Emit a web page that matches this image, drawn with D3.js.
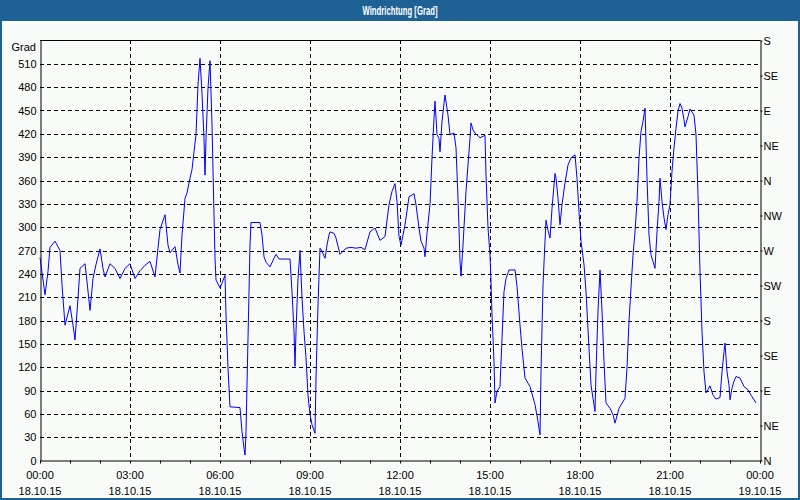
<!DOCTYPE html>
<html>
<head>
<meta charset="utf-8">
<script src="https://cdn.jsdelivr.net/npm/d3@7"></script>
<style>
html,body{margin:0;padding:0;background:#f8fbf8;}
svg{display:block;}
text{font-family:"Liberation Sans",Arial,sans-serif;font-size:11px;fill:#000;}
</style>
</head>
<body>
<svg id="chart" width="800" height="500"></svg>
<script>
// ---- data ----
const chartTitle = "Windrichtung [Grad]";
const yAxisTitle = "Grad";
const startDate = "2015-10-18T00:00:00";
// minutes after 18.10.15 00:00
const minutes = [0,10,16,20,30,40,44,50,60,66,70,76,80,90,94,100,106,112,120,126,130,140,150,160,170,180,190,200,210,220,230,236,240,250,256,260,270,276,280,284,290,294,300,304,308,312,316,320,324,328,330,332,336,340,344,348,350,352,360,364,370,372,376,380,400,404,408,410,412,414,416,418,420,422,440,444,448,452,460,468,472,478,500,504,508,510,512,516,520,524,528,532,536,540,544,550,552,556,560,564,570,574,578,580,588,592,600,612,622,632,642,650,660,670,680,690,698,704,710,714,718,722,730,738,748,752,758,762,768,770,774,780,784,788,790,794,798,800,804,808,810,816,820,828,832,836,838,840,842,846,852,856,860,862,866,870,880,890,892,896,900,902,904,908,910,914,920,924,928,932,938,950,954,960,964,970,980,990,996,1000,1002,1006,1010,1012,1016,1020,1024,1030,1032,1036,1040,1044,1050,1056,1062,1070,1074,1078,1082,1088,1092,1098,1102,1106,1110,1112,1116,1120,1124,1128,1132,1140,1146,1150,1158,1170,1174,1178,1182,1186,1190,1194,1198,1202,1206,1210,1214,1218,1222,1226,1230,1234,1238,1240,1244,1248,1252,1256,1260,1264,1268,1272,1276,1280,1284,1288,1290,1296,1300,1308,1312,1316,1320,1324,1328,1332,1336,1340,1346,1352,1360,1364,1368,1370,1374,1378,1380,1384,1388,1392,1400,1408,1416,1422,1432];
// wind direction in degrees
const direction = [261,213,243,274,282,270,226,174,199,174,155,209,247,253,230,193,234,252,272,247,236,253,247,234,247,253,234,244,251,256,236,273,297,316,277,267,275,252,241,290,337,344,363,374,397,419,483,517,472,414,367,414,479,514,432,316,260,232,222,228,238,187,119,69,68,37,16,7,37,97,157,217,277,306,306,290,262,255,249,260,265,259,259,217,166,121,166,234,270,209,166,132,84,59,46,35,106,200,273,269,260,277,290,294,292,286,265,273,274,273,274,271,294,299,283,288,329,346,356,333,288,277,303,339,343,329,299,282,273,262,292,329,389,440,462,419,414,397,436,459,470,444,419,421,402,337,299,256,237,277,346,380,414,434,425,421,415,418,367,299,264,230,187,127,74,89,95,157,217,234,245,245,224,174,144,106,95,72,50,33,114,226,282,309,296,286,324,369,363,337,303,329,357,380,389,393,363,320,282,252,217,144,97,80,63,114,192,245,192,127,74,67,59,48,67,80,119,179,222,264,294,333,389,423,436,453,363,290,264,256,247,294,333,363,333,312,297,316,329,372,402,427,449,459,453,438,429,442,452,444,419,342,243,166,114,87,91,96,84,79,81,114,140,151,114,97,78,93,102,108,106,95,91,84,74];
const leftTickValues = [0,30,60,90,120,150,180,210,240,270,300,330,360,390,420,450,480,510];
const rightTickValues = [0,45,90,135,180,225,270,315,360,405,450,495,540];
const rightTickLabels = ["N","NE","E","SE","S","SW","W","NW","N","NE","E","SE","S"];
const timeLabels = ["00:00","03:00","06:00","09:00","12:00","15:00","18:00","21:00","00:00"];
const dateLabels = ["18.10.15","18.10.15","18.10.15","18.10.15","18.10.15","18.10.15","18.10.15","18.10.15","19.10.15"];

// ---- drawing ----
const W = 800, H = 500;
const mLeft = 40, mRight = 760, mTop = 40, mBottom = 460;
const svg = d3.select("#chart");
const frameBlue = "#1e6295";

svg.append("rect").attr("x",0).attr("y",0).attr("width",W).attr("height",H).attr("fill","#f8fbf8");
svg.append("rect").attr("x",0).attr("y",0).attr("width",W).attr("height",21).attr("fill",frameBlue);
svg.append("rect").attr("x",1).attr("y",1).attr("width",W-2).attr("height",H-2)
  .attr("fill","none").attr("stroke",frameBlue).attr("stroke-width",2);
svg.append("text").attr("x",W/2).attr("y",14.5).attr("text-anchor","middle")
  .attr("textLength",75).attr("lengthAdjust","spacingAndGlyphs")
  .style("fill","#fff").style("font-weight","bold").style("font-size","12.5px").text(chartTitle);

const t0 = new Date(startDate);
const x = d3.scaleTime().domain([t0, d3.timeHour.offset(t0,24)]).range([mLeft, mRight]);
const y = d3.scaleLinear().domain([0,540]).range([mBottom+0.5, mTop+0.5]);
const py = v => Math.round(y(v)) + 0.5;
const px = d => Math.round(x(d)) + 0.5;

const grid = svg.append("g").attr("stroke","#000").attr("stroke-dasharray","4,3").attr("stroke-width",1);
leftTickValues.filter(v => v > 0).forEach(v => {
  grid.append("line").attr("x1",mLeft).attr("x2",mRight).attr("y1",py(v)).attr("y2",py(v));
});
const majorTimes = d3.range(0,25,3).map(h => d3.timeHour.offset(t0,h));
majorTimes.slice(1,-1).forEach(t => {
  grid.append("line").attr("x1",px(t)).attr("x2",px(t)).attr("y1",mTop).attr("y2",mBottom);
});

// frame top
svg.append("line").attr("x1",mLeft).attr("x2",mRight+0.5).attr("y1",mTop+0.5).attr("y2",mTop+0.5).attr("stroke","#000");

// left axis
const gl = svg.append("g").attr("transform",`translate(${mLeft+0.5},0)`)
  .call(d3.axisLeft(y).tickValues(leftTickValues).tickSize(0).tickPadding(4).tickSizeOuter(0));
gl.attr("font-family",null).attr("font-size",null);
gl.select(".domain").attr("stroke","#000");
svg.append("text").attr("x",36).attr("y",50.5).attr("text-anchor","end").text(yAxisTitle);

// right axis
const gr = svg.append("g").attr("transform",`translate(${mRight+0.5},0)`)
  .call(d3.axisRight(y).tickValues(rightTickValues).tickFormat((d,i)=>rightTickLabels[i]).tickSize(2).tickPadding(1).tickSizeOuter(0));
gr.attr("font-family",null).attr("font-size",null);
gr.select(".domain").attr("stroke","#000");
gr.selectAll(".tick line").attr("stroke","#000");

// bottom axis (hourly ticks)
const hourTimes = d3.range(0,25).map(h => d3.timeHour.offset(t0,h));
const gb = svg.append("g").attr("transform",`translate(0,${mBottom+0.5})`)
  .call(d3.axisBottom(x).tickValues(hourTimes).tickFormat("").tickSize(3).tickSizeOuter(0));
gb.select(".domain").attr("stroke","#000");
gb.selectAll(".tick line").attr("stroke","#000");

const lbl = svg.append("g");
majorTimes.forEach((t,i) => {
  lbl.append("text").attr("x",x(t)).attr("y",479).attr("text-anchor","middle").text(timeLabels[i]);
  lbl.append("text").attr("x",x(t)).attr("y",495).attr("text-anchor","middle").text(dateLabels[i]);
});

// data line
const data = minutes.map((m,i) => ({t: d3.timeMinute.offset(t0,m), v: direction[i]}));
const line = d3.line().x(d => x(d.t)).y(d => y(d.v));
svg.append("path").datum(data).attr("d",line).attr("fill","none").attr("stroke","#0000ff").attr("stroke-width",1);
</script>
</body>
</html>
